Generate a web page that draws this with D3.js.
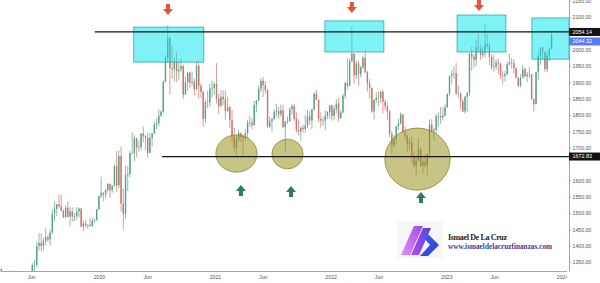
<!DOCTYPE html>
<html>
<head>
<meta charset="utf-8">
<script src="https://cdn.jsdelivr.net/npm/d3@7"></script>
<style>
  body { margin: 0; background: #fff; }
  svg { display: block; }
</style>
</head>
<body>
<script>
// weekly XAU/USD candles (open = previous close)
const weekStart = "2019-02-18";
const firstOpen = 1322;

const highs = [
  // 2019
  1346,1331,1300,1311,1320,1324,1301,1310,1294,1288,1290,1290,1303,1286,1306,1348,1358,1411,1439,1438,1424,1453,1433,1449,
  1510,1535,1527,1555,1557,1511,1523,1535,1519,1517,1500,1518,1517,1515,1478,1478,1465,1484,1486,1482,1513,1553,
  // 2020
  1611,1563,1573,1591,1591,1584,1649,1689,1692,1704,1575,1645,1645,1690,1747,1738,1730,1722,1745,1765,1739,1745,1744,1745,1780,1789,
  1818,1815,1906,1984,2075,2040,2015,1976,1992,1966,1973,1955,1917,1933,1933,1933,1911,1965,1965,1897,1875,1848,1875,1896,1906,1900,
  // 2021
  1959,1865,1875,1876,1875,1855,1828,1816,1760,1739,1755,1745,1740,1758,1784,1797,1790,1843,1846,1890,1913,1916,1903,1878,1795,1792,
  1818,1834,1825,1832,1832,1782,1795,1823,1834,1834,1808,1787,1765,1770,1801,1814,1813,1818,1870,1877,1848,1808,1793,1815,1812,1831,
  // 2022
  1832,1830,1848,1853,1815,1865,1902,1974,1973,2070,1989,1966,1966,1950,1982,1998,1936,1910,1884,1849,1870,1874,1875,1879,1848,1837,
  1815,1752,1739,1767,1789,1808,1802,1765,1740,1729,1735,1688,1676,1730,1700,1668,1676,1682,1786,1787,1761,1804,1810,1825,1823,1833,
  // 2023
  1865,1921,1937,1949,1960,1890,1870,1847,1858,1870,1990,2009,1986,2032,2048,2015,2009,2079,2048,2022,1985,1983,1971,1972,
  1959,1934,1935,1963,1987,1974,1970,1946,1916,1925,1953,1945,1932,1947,1925,1850,1932,1997,2009,2009,1995,1994,2008,2052
];

const lows = [
  // 2019
  1321,1291,1281,1291,1298,1281,1281,1285,1270,1266,1266,1275,1275,1266,1280,1305,1321,1335,1385,1382,1386,1401,1411,1400,
  1437,1475,1491,1517,1506,1484,1485,1486,1459,1474,1475,1480,1487,1456,1445,1456,1451,1458,1458,1471,1476,1510,
  // 2020
  1545,1536,1546,1563,1547,1562,1580,1564,1575,1504,1451,1483,1567,1610,1680,1659,1671,1687,1691,1717,1693,1670,1684,1704,1742,1757,
  1765,1794,1806,1900,1960,1863,1911,1902,1902,1906,1930,1848,1862,1873,1882,1889,1860,1876,1850,1853,1764,1776,1820,1826,1855,1863,
  // 2021
  1835,1803,1823,1830,1785,1808,1761,1717,1687,1677,1718,1716,1678,1720,1730,1764,1756,1767,1808,1842,1870,1855,1866,1761,1761,1750,
  1786,1795,1789,1794,1759,1687,1773,1778,1801,1781,1745,1737,1721,1746,1746,1760,1770,1758,1812,1846,1778,1762,1767,1753,1787,1789,
  // 2022
  1782,1786,1805,1780,1787,1806,1849,1878,1889,1961,1895,1910,1890,1915,1941,1929,1872,1850,1807,1786,1837,1828,1836,1805,1816,1784,
  1732,1681,1698,1711,1754,1770,1745,1727,1688,1691,1654,1639,1615,1660,1640,1618,1638,1616,1670,1747,1721,1744,1765,1773,1783,1795,
  // 2023
  1822,1857,1896,1912,1861,1853,1818,1809,1804,1809,1858,1935,1945,1950,1992,1969,1975,1977,2003,1952,1937,1932,1938,1925,
  1910,1893,1903,1922,1952,1942,1928,1912,1885,1885,1912,1914,1901,1913,1846,1810,1833,1908,1954,1969,1932,1931,1965,2001
];

const closes = [
  // 2019
  1328,1294,1298,1302,1313,1292,1291,1290,1276,1286,1279,1285,1277,1284,1305,1341,1341,1399,1409,1399,1415,1426,1419,1440,
  1497,1513,1527,1520,1507,1488,1516,1489,1505,1489,1490,1505,1514,1459,1468,1462,1464,1460,1476,1479,1511,1552,
  // 2020
  1562,1557,1571,1589,1570,1584,1643,1585,1674,1529,1498,1617,1620,1683,1683,1729,1700,1702,1743,1735,1730,1684,1730,1743,1771,1775,
  1798,1810,1902,1975,2035,1944,1940,1964,1934,1940,1950,1862,1900,1930,1899,1902,1879,1951,1889,1871,1788,1839,1839,1881,1883,1895,
  // 2021
  1850,1828,1856,1848,1813,1824,1784,1734,1700,1727,1745,1733,1729,1744,1777,1777,1769,1831,1844,1881,1905,1891,1877,1764,1781,1787,
  1808,1812,1802,1814,1763,1780,1781,1818,1827,1788,1754,1750,1761,1757,1768,1796,1783,1818,1865,1846,1788,1783,1783,1798,1809,1829,
  // 2022
  1797,1818,1835,1791,1808,1859,1898,1889,1966,1988,1921,1958,1925,1946,1975,1931,1897,1883,1811,1846,1853,1851,1871,1840,1827,1811,
  1742,1708,1727,1766,1775,1802,1747,1737,1712,1716,1675,1644,1660,1695,1644,1657,1645,1681,1771,1751,1755,1797,1797,1793,1798,1824,
  // 2023
  1865,1920,1926,1928,1865,1865,1842,1811,1856,1868,1989,1978,1969,2007,2004,1983,1990,2017,2011,1978,1946,1948,1961,1958,
  1921,1919,1925,1955,1961,1959,1943,1914,1889,1914,1940,1919,1924,1925,1849,1833,1932,1981,2006,1993,1940,1981,2002,2044.32
];

// axes
const xTickDates = ["2019-06-01","2020-01-01","2020-06-01","2021-01-01","2021-06-01","2022-01-01","2022-06-01","2023-01-01","2023-06-01","2024-01-01"];
const xTickNames = ["Jun","2020","Jun","2021","Jun","2022","Jun","2023","Jun","2024"];
const yTickValues = [2150,2100,2000,1950,1900,1850,1800,1750,1700,1600,1550,1500,1450,1400,1350];

// drawn levels
const levelValues = [2054.14, 1672.83];
const levelStarts = ["2019-12-19", "2020-07-18"];
const lastPrice = 2044.32;

// cyan resistance zones
const zoneStarts = ["2020-04-20", "2021-12-14", "2023-02-04", "2023-09-28"];
const zoneEnds   = ["2020-11-27", "2022-06-18", "2023-07-08", "2024-01-23"];
const zoneTops   = [2069, 2088, 2106, 2097];
const zoneBottoms= [1962, 1993, 1993, 1971];

// olive support ellipses
const ringStarts = ["2021-01-04", "2021-06-30", "2022-06-21"];
const ringEnds   = ["2021-05-14", "2021-10-06", "2023-01-13"];
const ringTops   = [1739, 1726, 1760];
const ringBottoms= [1625, 1635, 1570];

// arrows
const downArrowDates = ["2020-08-06", "2022-03-09", "2023-04-14"];
const downArrowTips  = [2106, 2112, 2118];
const upArrowDates   = ["2021-03-24", "2021-08-29", "2022-10-13"];
const upArrowTips    = [1586, 1583, 1564];

const W = 600, H = 283;
const plotW = 569, plotH = 271;
const parse = d3.utcParse("%Y-%m-%d");

const svg = d3.select("body").append("svg")
  .attr("width", W)
  .attr("height", H)
  .style("font-family", "'Liberation Sans', Arial, sans-serif");

const x = d3.scaleUtc()
  .domain([parse("2019-02-23"), parse("2024-01-23")])
  .range([0, plotW]);
const y = d3.scaleLinear()
  .domain([1322.5, 2152])
  .range([plotH, 0]);

const defs = svg.append("defs");
defs.append("clipPath").attr("id", "plot")
  .append("rect").attr("x", 0).attr("y", 0).attr("width", plotW).attr("height", plotH);
// local coords of the translated x-axis group
defs.append("clipPath").attr("id", "xlab")
  .append("rect").attr("x", -5).attr("y", -1).attr("width", 572).attr("height", H - plotH + 1);

const candles = closes.map((c, i) => ({
  date: d3.utcDay.offset(d3.utcMonday.offset(parse(weekStart), i), 2),
  open: i === 0 ? firstOpen : closes[i - 1],
  high: highs[i],
  low: lows[i],
  close: c
}));

const plot = svg.append("g").attr("clip-path", "url(#plot)");

const upColor = "#57a386", downColor = "#d2706a";

const cg = plot.selectAll("g.candle")
  .data(candles)
  .enter()
  .append("g")
  .attr("class", "candle");

cg.append("line")
  .attr("x1", d => x(d.date))
  .attr("x2", d => x(d.date))
  .attr("y1", d => y(d.high))
  .attr("y2", d => y(d.low))
  .attr("stroke", d => d.close >= d.open ? upColor : downColor)
  .attr("stroke-width", 0.7);

cg.append("rect")
  .attr("x", d => x(d.date) - 0.7)
  .attr("width", 1.4)
  .attr("y", d => y(Math.max(d.open, d.close)))
  .attr("height", d => Math.max(0.6, Math.abs(y(d.open) - y(d.close))))
  .attr("fill", d => d.close >= d.open ? upColor : downColor);

// zones
plot.selectAll("rect.zone")
  .data(zoneStarts)
  .enter()
  .append("rect")
  .attr("class", "zone")
  .attr("x", (d, i) => x(parse(d)))
  .attr("width", (d, i) => x(parse(zoneEnds[i])) - x(parse(d)))
  .attr("y", (d, i) => y(zoneTops[i]))
  .attr("height", (d, i) => y(zoneBottoms[i]) - y(zoneTops[i]))
  .attr("fill", "#00e6ee")
  .attr("fill-opacity", 0.5)
  .attr("stroke", "#2aa6b6")
  .attr("stroke-width", 0.8);

// ellipses
plot.selectAll("ellipse")
  .data(ringStarts)
  .enter()
  .append("ellipse")
  .attr("cx", (d, i) => (x(parse(d)) + x(parse(ringEnds[i]))) / 2)
  .attr("cy", (d, i) => (y(ringTops[i]) + y(ringBottoms[i])) / 2)
  .attr("rx", (d, i) => (x(parse(ringEnds[i])) - x(parse(d))) / 2)
  .attr("ry", (d, i) => (y(ringBottoms[i]) - y(ringTops[i])) / 2)
  .attr("fill", "#9a9420")
  .attr("fill-opacity", 0.55)
  .attr("stroke", "#8c8630")
  .attr("stroke-width", 0.8);

// horizontal levels
plot.selectAll("line.level")
  .data(levelValues)
  .enter()
  .append("line")
  .attr("class", "level")
  .attr("x1", (d, i) => x(parse(levelStarts[i])))
  .attr("x2", plotW)
  .attr("y1", d => y(d))
  .attr("y2", d => y(d))
  .attr("stroke", "#151515")
  .attr("stroke-width", 1.3);

// arrows
const downShape = [[-2,-11],[2,-11],[2,-6],[5,-6],[0,0],[-5,-6],[-2,-6]];
const upShape = downShape.map(p => [p[0], -p[1]]);

svg.selectAll("polygon.down")
  .data(downArrowDates)
  .enter()
  .append("polygon")
  .attr("class", "down")
  .attr("points", downShape.map(p => p.join(",")).join(" "))
  .attr("transform", (d, i) => `translate(${x(parse(d))},${y(downArrowTips[i])})`)
  .attr("fill", "#e0553c");

svg.selectAll("polygon.up")
  .data(upArrowDates)
  .enter()
  .append("polygon")
  .attr("class", "up")
  .attr("points", upShape.map(p => p.join(",")).join(" "))
  .attr("transform", (d, i) => `translate(${x(parse(d))},${y(upArrowTips[i])})`)
  .attr("fill", "#2f7d5a");

// watermark logo + signature
const logo = svg.append("g");
const grad1 = defs.append("linearGradient").attr("id", "g1")
  .attr("x1", 0).attr("y1", 1).attr("x2", 1).attr("y2", 0);
grad1.append("stop").attr("offset", 0).attr("stop-color", "#e68af5");
grad1.append("stop").attr("offset", 1).attr("stop-color", "#9b4fe8");
const grad2 = defs.append("linearGradient").attr("id", "g2")
  .attr("x1", 0).attr("y1", 1).attr("x2", 1).attr("y2", 0);
grad2.append("stop").attr("offset", 0).attr("stop-color", "#b050f0");
grad2.append("stop").attr("offset", 1).attr("stop-color", "#5b3de0");
const grad3 = defs.append("linearGradient").attr("id", "g3")
  .attr("x1", 0).attr("y1", 0).attr("x2", 1).attr("y2", 1);
grad3.append("stop").attr("offset", 0).attr("stop-color", "#4a62ee");
grad3.append("stop").attr("offset", 1).attr("stop-color", "#2a3ad0");

logo.append("rect")
  .attr("x", 397).attr("y", 221).attr("width", 46).attr("height", 37)
  .attr("fill", "#f6f6f7");
logo.append("polygon")
  .attr("points", "401,255 410,255 423,226 414,226")
  .attr("fill", "url(#g1)");
logo.append("polygon")
  .attr("points", "411,255 419,255 431,228 423,228")
  .attr("fill", "url(#g2)");
logo.append("polygon")
  .attr("points", "427,233 439,245 428,256 420,256 430,245 424,238")
  .attr("fill", "url(#g3)");

svg.append("text")
  .attr("x", 448).attr("y", 240)
  .attr("font-family", "'Liberation Serif', 'Times New Roman', serif")
  .attr("font-weight", "bold")
  .attr("font-size", 8)
  .attr("textLength", 59)
  .attr("fill", "#222")
  .text("Ismael De La Cruz");
svg.append("text")
  .attr("x", 448).attr("y", 249)
  .attr("font-family", "'Liberation Serif', 'Times New Roman', serif")
  .attr("font-weight", "bold")
  .attr("font-size", 7.2)
  .attr("textLength", 104)
  .attr("fill", "#3b3b9a")
  .text("www.ismaeldelacruzfinanzas.com");

// right price axis
const yAxis = svg.append("g")
  .attr("transform", `translate(${plotW},0)`)
  .call(d3.axisRight(y).tickValues(yTickValues).tickFormat(d3.format(".2f")).tickSize(2).tickSizeOuter(0));
yAxis.select(".domain").attr("stroke", "#a8a8a8");
yAxis.selectAll(".tick line").attr("stroke", "#a8a8a8");
yAxis.selectAll("text")
  .attr("x", 3.5)
  .attr("fill", "#555")
  .attr("font-size", 5.2)
  .attr("font-family", "'Liberation Sans', Arial, sans-serif");

// bottom time axis
const xAxis = svg.append("g")
  .attr("transform", `translate(0,${plotH})`)
  .attr("clip-path", "url(#xlab)")
  .call(d3.axisBottom(x).tickValues(xTickDates.map(parse)).tickFormat((d, i) => xTickNames[i]).tickSize(0).tickSizeOuter(0));
xAxis.select(".domain").attr("stroke", "#a8a8a8");
xAxis.selectAll("text")
  .attr("y", 4.5)
  .attr("fill", "#555")
  .attr("font-size", 5.2)
  .attr("font-family", "'Liberation Sans', Arial, sans-serif");

// price badges (last price label pushed below the level label, as the platform does)
const badgeValues = [levelValues[0], lastPrice, levelValues[1]];
const badgeColors = ["#131313", "#5a7cf2", "#131313"];
const badgeY = [y(levelValues[0]), Math.max(y(lastPrice), y(levelValues[0]) + 9.5), y(levelValues[1])];
const badges = svg.selectAll("g.badge")
  .data(badgeValues)
  .enter()
  .append("g")
  .attr("class", "badge")
  .attr("transform", (d, i) => `translate(${plotW},${badgeY[i]})`);
badges.append("rect")
  .attr("x", 0).attr("y", -4).attr("width", W - plotW).attr("height", 8)
  .attr("fill", (d, i) => badgeColors[i]);
badges.append("text")
  .attr("x", 3.5).attr("dy", "0.35em")
  .attr("fill", "#fff")
  .attr("font-size", 5.4)
  .text(d => d3.format(".2f")(d));
</script>
</body>
</html>
